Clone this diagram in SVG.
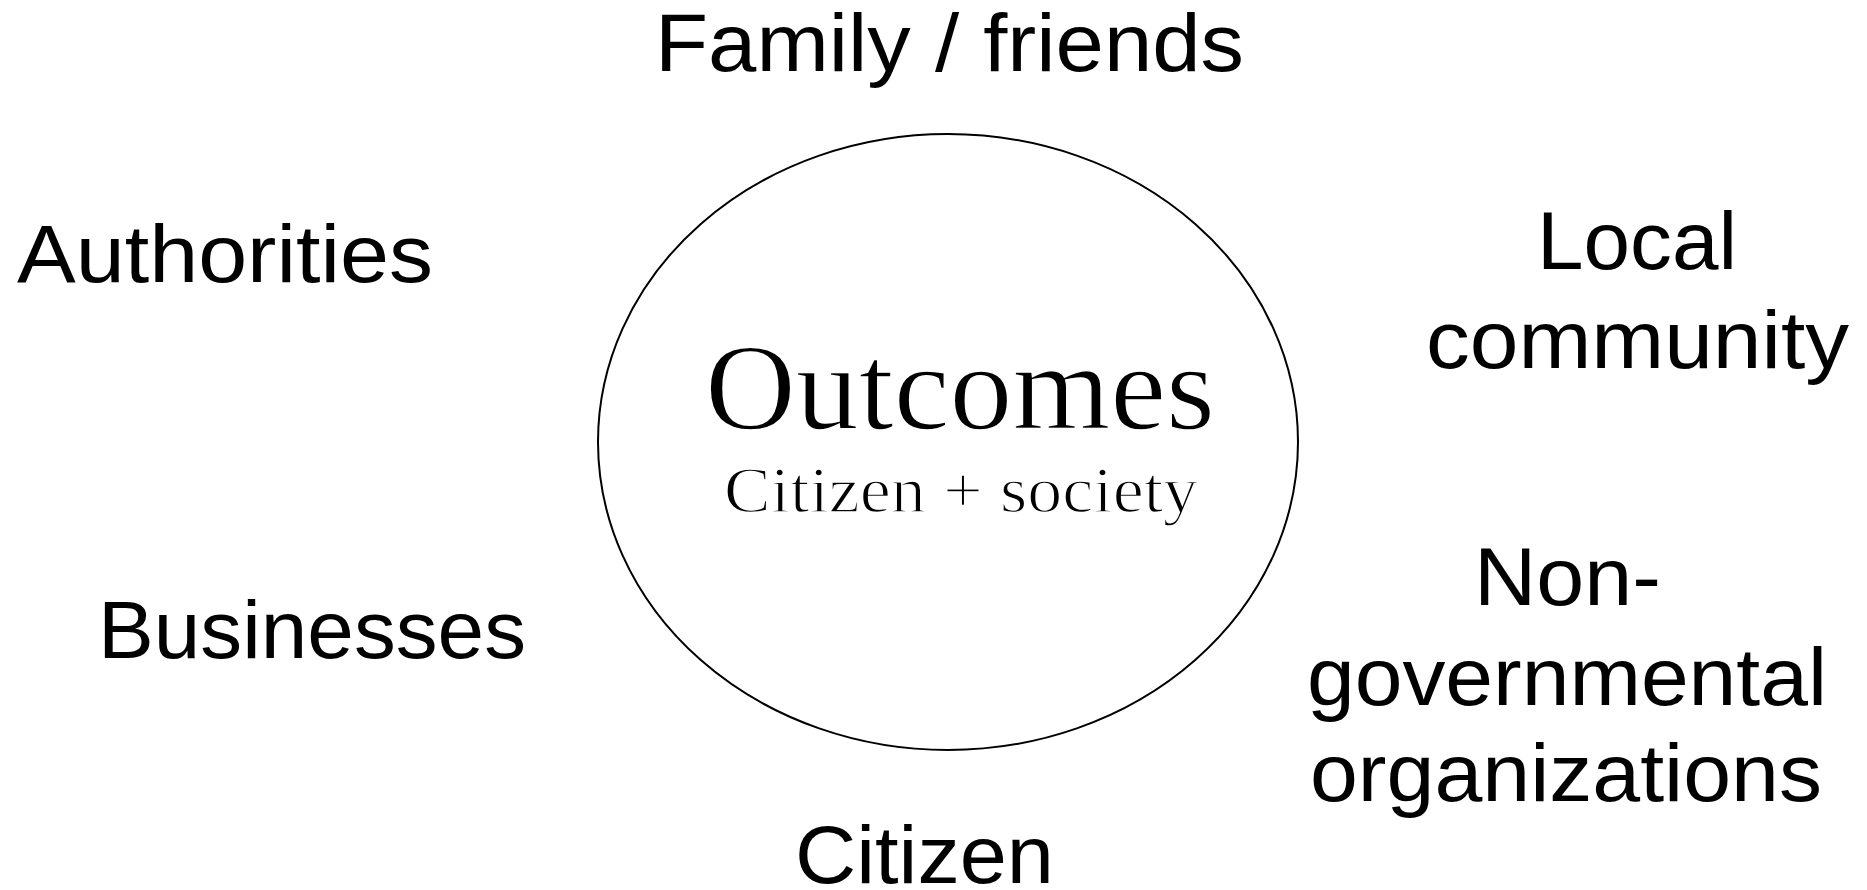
<svg xmlns="http://www.w3.org/2000/svg" width="1867" height="890" viewBox="0 0 1867 890">
<style>
.lbl{font-family:"Liberation Sans",Arial,sans-serif;font-size:82px;fill:#000}
.ser{font-family:"Liberation Serif","Times New Roman",serif;fill:#000;stroke:#fff;stroke-width:1.4px}
.ring{fill:none;stroke:#000;stroke-width:2}
</style>
<rect width="1867" height="890" fill="#fff"/>
<g id="connectors"></g>
<g id="outcomes">
<ellipse class="ring" cx="948" cy="442" rx="350" ry="308"/>
<text class="ser" x="705" y="429" font-size="122" textLength="510" lengthAdjust="spacingAndGlyphs">Outcomes</text>
<text class="ser" x="724" y="512" font-size="66" textLength="474" lengthAdjust="spacingAndGlyphs">Citizen + society</text>
</g>
<g id="family"><text class="lbl" x="655" y="71" textLength="589" lengthAdjust="spacingAndGlyphs">Family / friends</text></g>
<g id="authorities"><text class="lbl" x="17" y="282" textLength="416" lengthAdjust="spacingAndGlyphs">Authorities</text></g>
<g id="local">
<text class="lbl" x="1537" y="269" textLength="200" lengthAdjust="spacingAndGlyphs">Local</text>
<text class="lbl" x="1426" y="368" textLength="423" lengthAdjust="spacingAndGlyphs">community</text>
</g>
<g id="ngo">
<text class="lbl" x="1474" y="605" textLength="187" lengthAdjust="spacingAndGlyphs">Non-</text>
<text class="lbl" x="1307" y="705" textLength="520" lengthAdjust="spacingAndGlyphs">governmental</text>
<text class="lbl" x="1310" y="801" textLength="512" lengthAdjust="spacingAndGlyphs">organizations</text>
</g>
<g id="businesses"><text class="lbl" x="98" y="658" textLength="428" lengthAdjust="spacingAndGlyphs">Businesses</text></g>
<g id="citizen"><text class="lbl" x="795" y="883" textLength="259" lengthAdjust="spacingAndGlyphs">Citizen</text></g>
</svg>
